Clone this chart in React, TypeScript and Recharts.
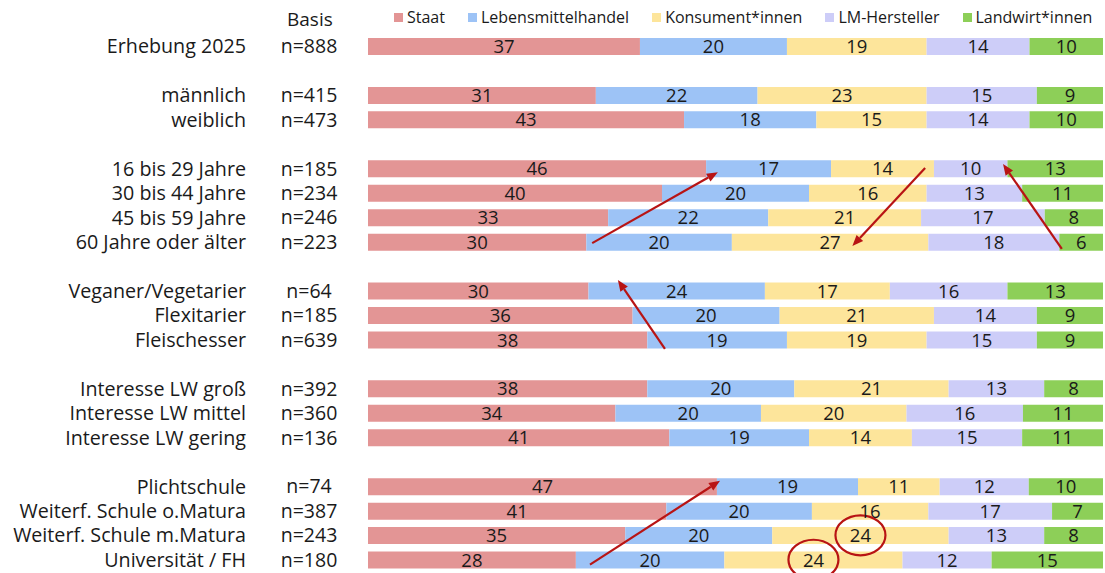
import React from "react";
import {
  BarChart,
  Bar,
  XAxis,
  YAxis,
  LabelList,
  Legend,
  ReferenceLine,
  ReferenceDot,
} from "recharts";

// ---------- data ----------
const categories = [
  "Erhebung 2025",
  "männlich",
  "weiblich",
  "16 bis 29 Jahre",
  "30 bis 44 Jahre",
  "45 bis 59 Jahre",
  "60 Jahre oder älter",
  "Veganer/Vegetarier",
  "Flexitarier",
  "Fleischesser",
  "Interesse LW groß",
  "Interesse LW mittel",
  "Interesse LW gering",
  "Plichtschule",
  "Weiterf. Schule o.Matura",
  "Weiterf. Schule m.Matura",
  "Universität / FH",
];
const basis = [
  "n=888", "n=415", "n=473", "n=185", "n=234", "n=246", "n=223",
  "n=64", "n=185", "n=639", "n=392", "n=360", "n=136",
  "n=74", "n=387", "n=243", "n=180",
];
const groupSizes = [1, 2, 4, 3, 3, 4];

const staat = [37, 31, 43, 46, 40, 33, 30, 30, 36, 38, 38, 34, 41, 47, 41, 35, 28];
const handel = [20, 22, 18, 17, 20, 22, 20, 24, 20, 19, 20, 20, 19, 19, 20, 20, 20];
const konsument = [19, 23, 15, 14, 16, 21, 27, 17, 21, 19, 21, 20, 14, 11, 16, 24, 24];
const hersteller = [14, 15, 14, 10, 13, 17, 18, 16, 14, 15, 13, 16, 15, 12, 17, 13, 12];
const landwirt = [10, 9, 10, 13, 11, 8, 6, 13, 9, 9, 8, 11, 11, 10, 7, 8, 15];

const seriesNames = ["Staat", "Lebensmittelhandel", "Konsument*innen", "LM-Hersteller", "Landwirt*innen"];
const seriesKeys = ["staat", "handel", "konsument", "hersteller", "landwirt"];
const seriesValues = [staat, handel, konsument, hersteller, landwirt];
const seriesColors = ["#e39595", "#9dc3f6", "#fde59b", "#cdcdf8", "#8dcf58"];

// annotation arrows: [x fraction, row position (incl. gap rows)] start -> tip
const arrows = [
  [[0.305, 8.05], [0.476, 5.15]],
  [[0.758, 4.98], [0.659, 8.17]],
  [[0.944, 8.29], [0.864, 4.82]],
  [[0.404, 12.38], [0.34, 9.56]],
  [[0.302, 21.2], [0.479, 17.77]],
];
// circled values: category index, series index
const circled = [
  [15, 2],
  [16, 2],
];

// ---------- build table ----------
type Row = { name: string; basis: string; [k: string]: any };
const rows: Row[] = [];
const catRowIdx: number[] = [];
{
  let c = 0;
  groupSizes.forEach((size, g) => {
    if (g > 0) {
      rows.push({ name: `__gap${g}`, basis: "" });
    }
    for (let i = 0; i < size; i++) {
      const r: Row = { name: categories[c], basis: basis[c] };
      seriesKeys.forEach((k, s) => {
        r[k] = seriesValues[s][c];
      });
      catRowIdx.push(rows.length);
      rows.push(r);
      c++;
    }
  });
}
const basisByName: Record<string, string> = {};
rows.forEach((r) => (basisByName[r.name] = r.basis));

const circleSpots = circled.map(([ci, si]) => {
  const vals = seriesValues.map((v) => v[ci]);
  const total = vals.reduce((a, b) => a + b, 0);
  const before = vals.slice(0, si).reduce((a, b) => a + b, 0);
  return { x: (before + vals[si] / 2) / total, y: rows[catRowIdx[ci]].name };
});

const arrowSpecs = arrows.map(([s, e]) => {
  const r1 = Math.round(s[1]);
  const r2 = Math.round(e[1]);
  return {
    x1: s[0],
    y1: rows[r1].name,
    o1: s[1] - r1,
    r1,
    x2: e[0],
    y2: rows[r2].name,
    o2: e[1] - r2,
    r2,
  };
});

const FONT = "'Open Sans', sans-serif";
const ANNO = "#b81414";
const TXT = "#1a1a1a";

const RowTick = (props: any) => {
  const { y, payload } = props;
  const name: string = payload.value;
  if (!name || name.startsWith("__gap")) return null;
  return (
    <g>
      <text x={246} y={y} dy="0.36em" textAnchor="end" fontSize={19.7} fill={TXT} fontFamily={FONT}>
        {name}
      </text>
      <text x={309} y={y} dy="0.36em" textAnchor="middle" fontSize={19.5} fill={TXT} fontFamily={FONT}>
        {basisByName[name]}
      </text>
    </g>
  );
};

const makeArrow = (spec: any) => (props: any) => {
  const { x1, y1: py1, x2, y2: py2 } = props;
  const slot = spec.r2 !== spec.r1 ? (py2 - py1) / (spec.r2 - spec.r1) : 24.5;
  const y1 = py1 + spec.o1 * slot;
  const y2 = py2 + spec.o2 * slot;
  const ang = Math.atan2(y2 - y1, x2 - x1);
  const len = 11;
  const half = 4.5;
  const bx = x2 - len * Math.cos(ang);
  const by = y2 - len * Math.sin(ang);
  const px = -Math.sin(ang) * half;
  const py = Math.cos(ang) * half;
  return (
    <g>
      <line x1={x1} y1={y1} x2={bx} y2={by} stroke={ANNO} strokeWidth={2.2} />
      <polygon points={`${x2},${y2} ${bx + px},${by + py} ${bx - px},${by - py}`} fill={ANNO} />
    </g>
  );
};

const EllipseShape = (props: any) => {
  const { cx, cy } = props;
  return <ellipse cx={cx} cy={cy} rx={25} ry={20} fill="none" stroke={ANNO} strokeWidth={2.2} />;
};

const LegendContent = (props: any) => {
  const payload = [...(props.payload || [])].sort(
    (a: any, b: any) => seriesNames.indexOf(a.value) - seriesNames.indexOf(b.value)
  );
  return (
    <div style={{ position: "relative", height: 22, width: 1105, fontFamily: FONT, fontSize: 16, color: TXT }}>
      <span style={{ position: "absolute", left: 287, top: 2, fontSize: 19, lineHeight: "22px" }}>Basis</span>
      <div style={{ position: "absolute", left: 394, top: 0, display: "flex", alignItems: "center", height: 22, gap: 23 }}>
        {payload.map((p: any) => (
          <div key={p.value} style={{ display: "flex", alignItems: "center" }}>
            <span style={{ display: "inline-block", width: 9, height: 9, background: p.color, marginRight: 4 }} />
            <span style={{ lineHeight: "22px", whiteSpace: "nowrap" }}>{p.value}</span>
          </div>
        ))}
      </div>
    </div>
  );
};

const fmt = (v: any) => (v == null ? "" : v);

export default function App() {
  return (
    <div style={{ position: "absolute", left: 0, top: 0, background: "#fff" }}>
      <BarChart
        width={1105}
        height={573}
        data={rows}
        layout="vertical"
        stackOffset="expand"
        margin={{ top: 12, right: 2, bottom: 1, left: 0 }}
        barSize={17}
      >
        <XAxis type="number" hide domain={[0, 1]} />
        <YAxis
          type="category"
          dataKey="name"
          width={368}
          tickLine={false}
          axisLine={false}
          interval={0}
          tick={<RowTick />}
        />
        <Legend verticalAlign="top" align="left" wrapperStyle={{ top: 6, left: 0 }} content={<LegendContent />} />
        {seriesKeys.map((k, s) => (
          <Bar key={k} dataKey={k} name={seriesNames[s]} stackId="a" fill={seriesColors[s]} isAnimationActive={false}>
            <LabelList dataKey={k} position="center" fill={TXT} fontSize={18.5} fontFamily={FONT} formatter={fmt} />
          </Bar>
        ))}
        {arrowSpecs.map((a, i) => (
          <ReferenceLine
            key={`ar${i}`}
            segment={[
              { x: a.x1, y: a.y1 },
              { x: a.x2, y: a.y2 },
            ]}
            ifOverflow="visible"
            shape={makeArrow(a)}
          />
        ))}
        {circleSpots.map((c, i) => (
          <ReferenceDot key={`c${i}`} x={c.x} y={c.y} r={20} ifOverflow="visible" shape={<EllipseShape />} />
        ))}
      </BarChart>
    </div>
  );
}
